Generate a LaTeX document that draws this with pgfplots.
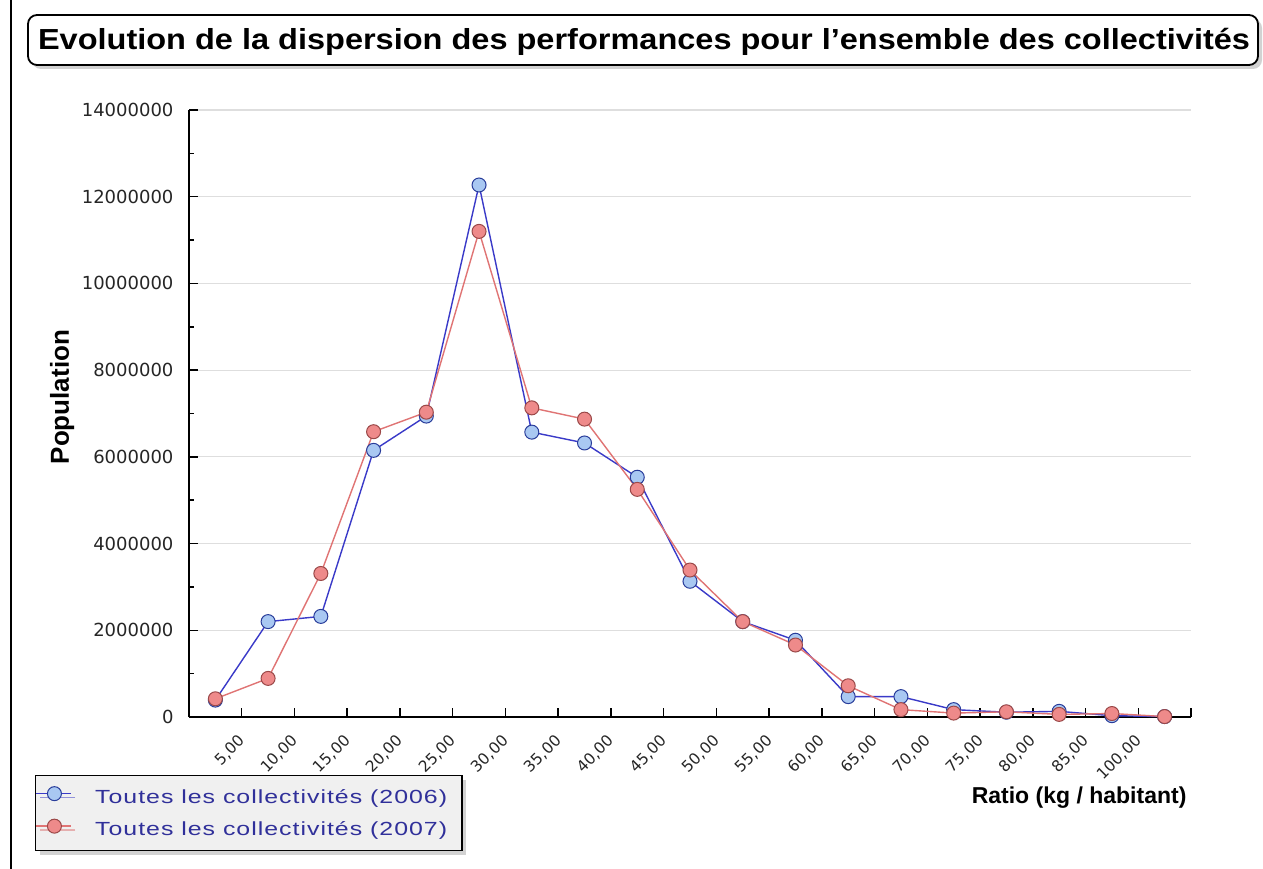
\documentclass[border=0pt]{standalone}
\usepackage{pgfplots}
\pgfplotsset{compat=1.18}
\usepackage{fontspec}
\setmainfont{Liberation Sans}
\newfontfamily\dejavu{DejaVu Sans}
\newfontfamily\legfont[LetterSpace=4]{Liberation Sans}
\usetikzlibrary{shadows}
\definecolor{blueline}{HTML}{3A3AC8}
\definecolor{bluefill}{HTML}{A9C8F2}
\definecolor{blueedge}{HTML}{283C9A}
\definecolor{redline}{HTML}{E07474}
\definecolor{redfill}{HTML}{EE8A8A}
\definecolor{rededge}{HTML}{9A4848}
\definecolor{legtext}{HTML}{30309A}
\newcommand\legtext[1]{\resizebox{352pt}{\height}{\fontsize{19}{22}\legfont #1}\rule{15pt}{0pt}}

\pgfplotstableread{
x y
0.5 390000
1.5 2200000
2.5 2320000
3.5 6150000
4.5 6940000
5.5 12270000
6.5 6570000
7.5 6320000
8.5 5530000
9.5 3130000
10.5 2200000
11.5 1770000
12.5 470000
13.5 470000
14.5 170000
15.5 110000
16.5 130000
17.5 30000
18.5 10000
}\dataA
\pgfplotstableread{
x y
0.5 420000
1.5 890000
2.5 3310000
3.5 6580000
4.5 7030000
5.5 11200000
6.5 7130000
7.5 6870000
8.5 5250000
9.5 3390000
10.5 2200000
11.5 1660000
12.5 720000
13.5 170000
14.5 90000
15.5 120000
16.5 60000
17.5 80000
18.5 10000
}\dataB

\begin{document}
\begin{tikzpicture}
\useasboundingbox (0pt,0pt) rectangle (1263pt,869pt);
\fill[white] (0pt,0pt) rectangle (1263pt,869pt);
\draw[line width=1.5pt] (11pt,0pt) -- (11pt,869pt);
\node[draw, line width=1.8pt, rounded corners=9pt, fill=white,
      drop shadow={shadow xshift=4pt, shadow yshift=-4pt, fill=black!35},
      minimum width=1230pt, minimum height=50pt, inner sep=0pt] at (643pt,829pt) {};
\node[anchor=base, inner sep=0pt] at (644pt,819pt) {\resizebox{1212pt}{\height}{\fontsize{29}{34}\selectfont\bfseries Evolution de la dispersion des performances pour l'ensemble des collectivités}};

\begin{axis}[
  at={(189pt,152pt)}, anchor=south west,
  scale only axis, width=1002pt, height=607pt,
  xmin=0, xmax=19, ymin=0, ymax=14000000,
  axis x line*=bottom, axis y line*=left,
  axis line style={line width=1.8pt, black},
  xtick={1,...,19},
  xticklabels={{5,00},{10,00},{15,00},{20,00},{25,00},{30,00},{35,00},{40,00},{45,00},{50,00},{55,00},{60,00},{65,00},{70,00},{75,00},{80,00},{85,00},{100,00},{}},
  ytick={0,2000000,4000000,6000000,8000000,10000000,12000000,14000000},
  yticklabels={0,2000000,4000000,6000000,8000000,10000000,12000000,14000000},
  minor y tick num=1,
  tick align=inside,
  major tick length=9pt, minor tick length=5pt,
  tick style={black, line width=1.5pt},
  ymajorgrids, grid style={color=black!13, line width=1.2pt},
  scaled y ticks=false,
  yticklabel style={font=\dejavu\fontsize{18}{21}\selectfont, text=black!85, xshift=-12pt},
  xticklabel style={font=\dejavu\fontsize{15.5}{18}\selectfont, text=black!85, yshift=-19pt, xshift=3pt, rotate=45, anchor=east},
  ylabel={Population},
  ylabel style={font=\bfseries\fontsize{26}{30}\selectfont, at={(axis description cs:-0.1267,0.527)}, anchor=center},
  xlabel={Ratio (kg / habitant)},
  xlabel style={font=\bfseries\fontsize{23}{27}\selectfont, at={(axis description cs:0.999,-0.1417)}, anchor=base east},
  clip=false,
  legend style={at={(axis description cs:-0.1537,-0.0954)}, anchor=north west,
     draw=black, line width=1.5pt, fill=black!6,
     drop shadow={shadow xshift=4pt, shadow yshift=-4pt, fill=black!35},
     text=legtext,
     nodes={inner sep=0pt, text height=13pt, text depth=4pt},
     column sep=23pt,
     inner xsep=0pt, inner ysep=11pt, row sep=12pt},
  legend cell align=left,
  legend image code/.code={
     \draw[#1,mark=none] (0pt,5pt) -- (35pt,5pt);
     \draw[#1,only marks,mark size=7pt] plot coordinates {(18pt,5pt)};
  },
]
\addplot[color=blueline, line width=1.4pt, mark=*, mark size=7pt,
  mark options={fill=bluefill, draw=blueedge, line width=1pt}] table[x=x,y=y] {\dataA};
\addlegendentry{\legtext{Toutes les collectivités (2006)}}
\addplot[color=redline, line width=1.4pt, mark=*, mark size=7pt,
  mark options={fill=redfill, draw=rededge, line width=1pt}] table[x=x,y=y] {\dataB};
\addlegendentry{\legtext{Toutes les collectivités (2007)}}
\end{axis}
\end{tikzpicture}
\end{document}
